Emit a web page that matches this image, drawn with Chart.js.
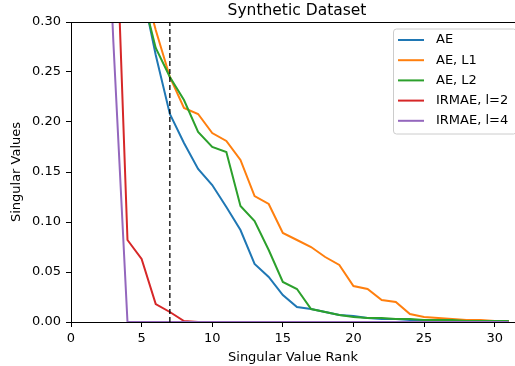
<!DOCTYPE html>
<html>
<head>
<meta charset="utf-8">
<script src="https://cdn.jsdelivr.net/npm/chart.js@4/dist/chart.umd.min.js"></script>
<style>
  html, body { margin: 0; padding: 0; background: #fff; }
  #wrap { width: 515px; height: 366px; }
</style>
</head>
<body>
<div id="wrap"><canvas id="svChart" width="515" height="366"></canvas></div>
<script>
// 資料
const chartTitle = 'Synthetic Dataset';
const ranks = [1, 2, 3, 4, 5, 6, 7, 8, 9, 10, 11, 12, 13, 14, 15, 16,
               17, 18, 19, 20, 21, 22, 23, 24, 25, 26, 27, 28, 29, 30, 31];

const aeValues = [1.2, 0.9, 0.7, 0.5, 0.335, 0.267, 0.208, 0.179, 0.153, 0.137, 0.115,
                  0.092, 0.058, 0.045, 0.027, 0.015, 0.013, 0.010, 0.007, 0.006, 0.004,
                  0.003, 0.003, 0.002, 0.002, 0.0015, 0.001, 0.001, 0.001, 0.001, 0.001];
const aeL1Values = [1.3, 1.0, 0.75, 0.5, 0.345, 0.292, 0.245, 0.214, 0.208, 0.189, 0.181,
                    0.162, 0.126, 0.118, 0.089, 0.082, 0.075, 0.065, 0.057, 0.036, 0.033,
                    0.022, 0.020, 0.008, 0.005, 0.004, 0.003, 0.002, 0.002, 0.001, 0.001];
const aeL2Values = [1.2, 0.9, 0.7, 0.45, 0.33, 0.274, 0.245, 0.222, 0.19, 0.175, 0.17,
                    0.116, 0.101, 0.072, 0.040, 0.033, 0.013, 0.010, 0.007, 0.005, 0.004,
                    0.004, 0.003, 0.003, 0.002, 0.002, 0.002, 0.001, 0.001, 0.001, 0.001];
const irmae2Values = [2.0, 1.0, 0.48, 0.082, 0.063, 0.018, 0.010, 0.001, 0, 0, 0,
                      0, 0, 0, 0, 0, 0, 0, 0, 0, 0,
                      0, 0, 0, 0, 0, 0, 0, 0, 0, 0];
const irmae4Values = [2.5, 0.6, 0.28, 0, 0, 0, 0, 0, 0, 0, 0,
                      0, 0, 0, 0, 0, 0, 0, 0, 0, 0,
                      0, 0, 0, 0, 0, 0, 0, 0, 0, 0];

const thresholdRank = 7;          // 虛線位置
const xTicks = [0, 5, 10, 15, 20, 25, 30];
const yTicks = [0, 0.05, 0.10, 0.15, 0.20, 0.25, 0.30];
const xMax = 31.44;               // 原圖右邊被裁掉一點
const yMax = 0.3;

const seriesLabels = ['AE', 'AE, L1', 'AE, L2', 'IRMAE, l=2', 'IRMAE, l=4'];
const seriesValues = [aeValues, aeL1Values, aeL2Values, irmae2Values, irmae4Values];
const seriesColors = ['#1f77b4', '#ff7f0e', '#2ca02c', '#d62728', '#9467bd'];

const FONT = '"DejaVu Sans", "Liberation Sans", sans-serif';

const datasets = seriesValues.map((vals, i) => ({
    label: seriesLabels[i],
    data: ranks.map((r, j) => ({ x: r, y: vals[j] })),
    borderColor: seriesColors[i],
    borderWidth: 2,
    pointRadius: 0,
    tension: 0,
    fill: false,
    order: 10 - i   // 後畫的在上面 (跟 matplotlib 一樣)
}));

// 虛線
datasets.push({
    label: '_threshold',
    data: [{ x: thresholdRank, y: 0 }, { x: thresholdRank, y: yMax }],
    borderColor: '#000',
    borderWidth: 1.3,
    borderDash: [5, 3],
    pointRadius: 0,
    fill: false,
    order: 0
});

// 上邊框 + 標題 + 圖例
const framePlugin = {
    id: 'frame',
    afterDraw(chart) {
        const { ctx, chartArea: a } = chart;
        ctx.save();
        ctx.strokeStyle = '#000';
        ctx.lineWidth = 1;
        ctx.beginPath();
        ctx.moveTo(a.left, a.top + 0.5);
        ctx.lineTo(a.right, a.top + 0.5);
        ctx.stroke();

        ctx.fillStyle = '#000';
        ctx.font = '15.5px ' + FONT;
        ctx.textAlign = 'center';
        ctx.textBaseline = 'alphabetic';
        ctx.fillText(chartTitle, (a.left + a.right + 8) / 2, 15);

        // 圖例
        const boxRight = a.right + 1, boxTop = a.top + 6.5;
        const boxW = 123, rowH = 20.2, boxH = 5 * rowH + 4;
        const boxLeft = boxRight - boxW;
        ctx.beginPath();
        ctx.roundRect(boxLeft + 0.5, boxTop + 0.5, boxW, boxH, 3);
        ctx.fillStyle = 'rgba(255,255,255,0.8)';
        ctx.fill();
        ctx.strokeStyle = '#cccccc';
        ctx.stroke();

        ctx.font = '13px ' + FONT;
        ctx.textAlign = 'left';
        ctx.textBaseline = 'middle';
        seriesLabels.forEach((lab, i) => {
            const y = boxTop + 11.5 + i * rowH;
            ctx.strokeStyle = seriesColors[i];
            ctx.lineWidth = 2;
            ctx.beginPath();
            ctx.moveTo(boxLeft + 5, y);
            ctx.lineTo(boxLeft + 31, y);
            ctx.stroke();
            ctx.fillStyle = '#000';
            ctx.fillText(lab, boxLeft + 43, y);
        });
        ctx.restore();
    }
};

const ctx = document.getElementById('svChart').getContext('2d');
const svChart = new Chart(ctx, {
    type: 'line',
    data: { datasets },
    plugins: [framePlugin],
    options: {
        responsive: false,
        animation: false,
        layout: { padding: { top: 22, right: 0, bottom: 0, left: 0 } },
        plugins: {
            legend: { display: false },
            title: { display: false },
            tooltip: { enabled: false }
        },
        scales: {
            x: {
                type: 'linear',
                min: 0,
                max: xMax,
                afterFit: s => { s.height = 44; s.paddingRight = 0; s.paddingLeft = 0; },
                afterBuildTicks: s => { s.ticks = xTicks.map(v => ({ value: v })); },
                ticks: { color: '#000', font: { family: FONT, size: 13 }, padding: 4, maxRotation: 0 },
                grid: { drawOnChartArea: false, drawTicks: true, tickLength: 5, tickColor: '#000' },
                border: { display: true, color: '#000', width: 1 },
                title: { display: true, text: 'Singular Value Rank', color: '#000',
                         font: { family: FONT, size: 13 }, padding: { top: 0, bottom: 0.5 } }
            },
            y: {
                min: 0,
                max: yMax,
                afterFit: s => { s.width = 71; },
                afterBuildTicks: s => { s.ticks = yTicks.map(v => ({ value: v })); },
                ticks: { color: '#000', font: { family: FONT, size: 13 }, padding: 5,
                         callback: v => v.toFixed(2) },
                grid: { drawOnChartArea: false, drawTicks: true, tickLength: 5, tickColor: '#000' },
                border: { display: true, color: '#000', width: 1 },
                title: { display: true, text: 'Singular Values', color: '#000',
                         font: { family: FONT, size: 13 }, padding: { top: 9, bottom: 0 } }
            }
        }
    }
});
</script>
</body>
</html>
